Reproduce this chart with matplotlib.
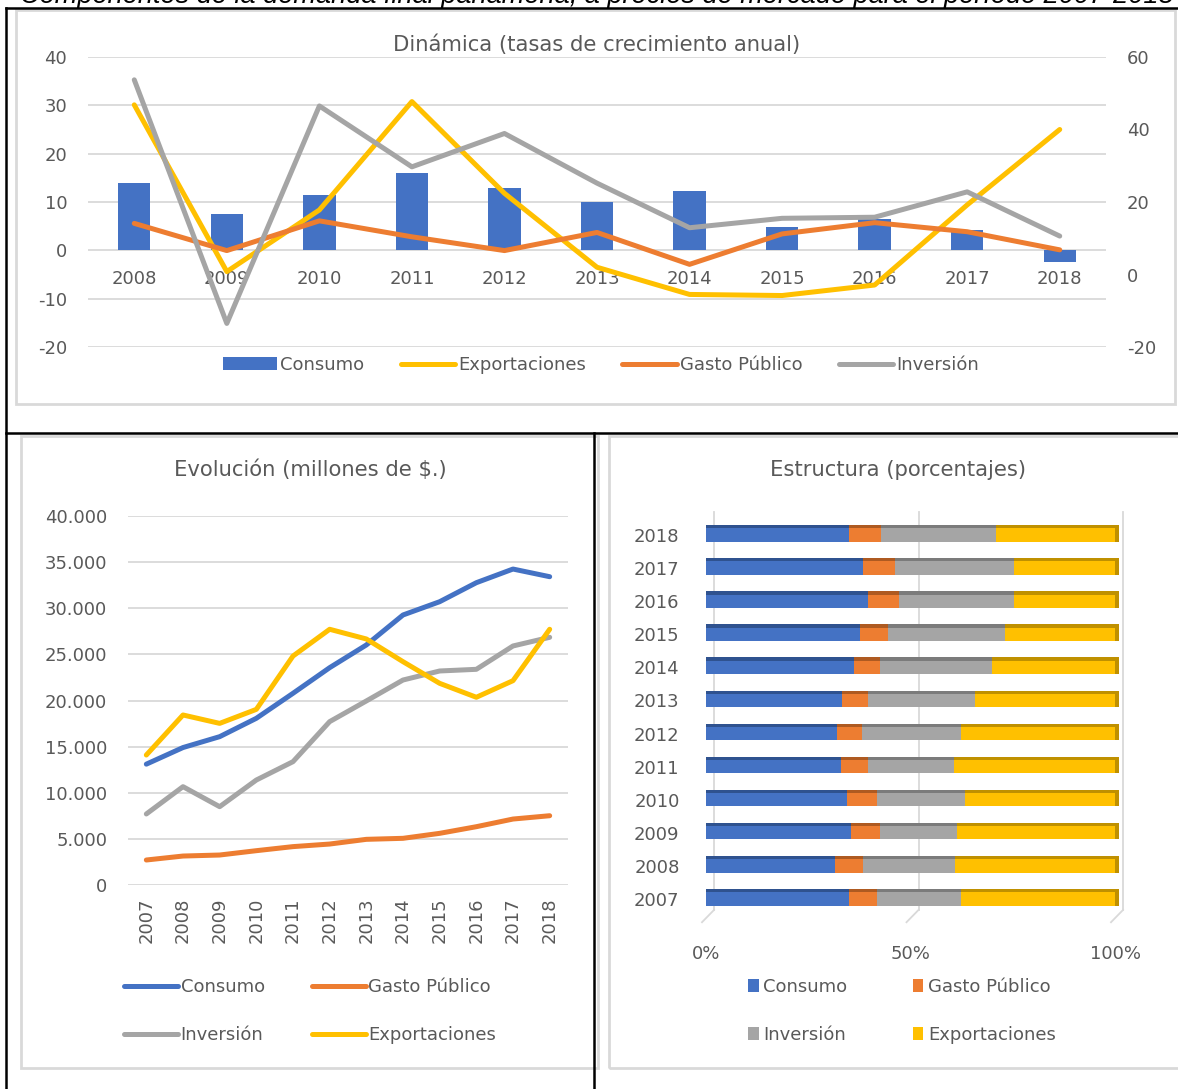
import matplotlib
matplotlib.use("Agg")
import matplotlib.pyplot as plt
import numpy as np
from matplotlib.patches import Rectangle
from matplotlib.lines import Line2D
from matplotlib.transforms import ScaledTranslation
from matplotlib.ticker import FuncFormatter

# ---------------- data ----------------
years_growth = ["2008", "2009", "2010", "2011", "2012", "2013", "2014", "2015", "2016", "2017", "2018"]
consumo_growth = [13.9, 7.6, 11.5, 16.1, 12.9, 9.9, 12.3, 4.8, 6.4, 4.3, -2.4]
export_growth = [46.8, 0.8, 17.8, 47.7, 22.4, 2.0, -5.5, -5.8, -2.9, 19.2, 40.0]
gasto_growth = [14.1, 6.6, 14.8, 10.4, 6.6, 11.6, 2.8, 11.2, 14.3, 11.8, 6.8]
inversion_growth = [53.7, -13.5, 46.5, 29.7, 38.9, 25.2, 12.9, 15.5, 15.8, 22.8, 10.6]

years = ["2007", "2008", "2009", "2010", "2011", "2012", "2013", "2014", "2015", "2016", "2017", "2018"]
consumo = [13100, 14900, 16080, 18070, 20780, 23560, 26020, 29270, 30710, 32770, 34250, 33420]
gasto = [2710, 3140, 3250, 3720, 4160, 4440, 4950, 5060, 5600, 6320, 7150, 7510]
inversion = [7700, 10660, 8490, 11380, 13370, 17710, 19950, 22220, 23200, 23380, 25910, 26850]
exportaciones = [14090, 18430, 17520, 19040, 24820, 27720, 26670, 24210, 21860, 20350, 22150, 27720]

share_consumo = [34.9, 31.6, 35.4, 34.5, 32.9, 32.1, 33.3, 36.3, 37.7, 39.5, 38.3, 35.0]
share_gasto = [7.0, 6.7, 7.2, 7.2, 6.6, 6.0, 6.4, 6.3, 6.9, 7.6, 7.9, 7.8]
share_inversion = [20.4, 22.5, 18.8, 21.6, 21.1, 24.2, 26.0, 27.3, 28.5, 28.3, 29.0, 28.2]
share_export = [37.7, 39.2, 38.6, 36.7, 39.4, 37.7, 34.3, 30.1, 26.9, 24.6, 24.8, 29.0]

# ---------------- style ----------------
BLUE, ORANGE, GRAY, YELLOW = "#4472C4", "#ED7D31", "#A5A5A5", "#FFC000"
DBLUE, DORANGE, DGRAY, DYELLOW = "#2F528F", "#AE5A21", "#7B7B7B", "#BF9000"
TXT = "#595959"
GRID = "#D9D9D9"
FS = 13
TFS = 15.2
plt.rcParams["font.family"] = ["DejaVu Sans"]
plt.rcParams["axes.unicode_minus"] = False

W, H = 1178, 1089
fig = plt.figure(figsize=(W / 100, H / 100), dpi=100)


def frect(x0, y0, x1, y1):
    return [x0 / W, 1 - y1 / H, (x1 - x0) / W, (y1 - y0) / H]


def fx(x):
    return x / W


def fy(y):
    return 1 - y / H


# caption (partly cut at the top edge, as in the source page)
fig.text(fx(20), fy(3), "Componentes de la demanda final panameña, a precios de mercado para el período 2007-2018",
         fontsize=19.5, style="italic", family="Liberation Sans", color="black", va="baseline", ha="left")

# panel borders
for (x0, y0, x1, y1) in [(16, 10, 1175, 404), (21, 436, 598, 1068), (609, 436, 1185, 1068)]:
    fig.patches.append(Rectangle((fx(x0), fy(y1)), fx(x1) - fx(x0), fy(y0) - fy(y1),
                                 transform=fig.transFigure, fill=False, edgecolor=GRID, lw=2, zorder=1))
# table lines
for (xa, ya, xb, yb) in [(6, 8, 6, 1089), (6, 8, 1178, 8), (6, 433, 1178, 433), (594, 433, 594, 1089)]:
    fig.add_artist(Line2D([fx(xa), fx(xb)], [fy(ya), fy(yb)], transform=fig.transFigure, color="black", lw=1.8))

# ---------------- top chart ----------------
ax = fig.add_axes(frect(88, 57, 1106, 347))
x = np.arange(len(years_growth))
ax.bar(x, consumo_growth, width=0.35, color=BLUE, zorder=2, label="Consumo")
ax.set_xlim(-0.5, len(years_growth) - 0.5)
ax.set_ylim(-20, 40)
ax.set_yticks(np.arange(-20, 41, 10))
ax.yaxis.grid(True, color=GRID, lw=1.3)
ax.set_axisbelow(True)
for s in ax.spines.values():
    s.set_visible(False)
ax.spines["bottom"].set_position(("data", 0))
ax.set_xticks(x)
ax.set_xticklabels(years_growth)
ax.tick_params(axis="x", length=0, pad=14, labelsize=FS, labelcolor=TXT)
ax.tick_params(axis="y", length=0, pad=15, labelsize=FS, labelcolor=TXT)

ax2 = ax.twinx()
ax2.set_ylim(-20, 60)
ax2.set_yticks(np.arange(-20, 61, 20))
for s in ax2.spines.values():
    s.set_visible(False)
ax2.tick_params(axis="y", length=0, pad=15, labelsize=FS, labelcolor=TXT)
ax2.plot(x, export_growth, color=YELLOW, lw=3.6, solid_capstyle="round", label="Exportaciones")
ax2.plot(x, gasto_growth, color=ORANGE, lw=3.6, solid_capstyle="round", label="Gasto Público")
ax2.plot(x, inversion_growth, color=GRAY, lw=3.6, solid_capstyle="round", label="Inversión")

fig.text(fx(597), fy(45), "Dinámica (tasas de crecimiento anual)", ha="center", va="center",
         fontsize=TFS, color=TXT)

h1, l1 = ax.get_legend_handles_labels()
h2, l2 = ax2.get_legend_handles_labels()
fig.legend(h1 + h2, l1 + l2, loc="center", bbox_to_anchor=(fx(601), fy(365)), ncol=4, frameon=False,
           fontsize=FS, labelcolor=TXT, handlelength=3.0, handleheight=0.7, handletextpad=0.2,
           columnspacing=2.0, borderpad=0)

# ---------------- bottom-left chart ----------------
bx = fig.add_axes(frect(128, 516, 568, 885))
xi = np.arange(len(years))
bx.plot(xi, consumo, color=BLUE, lw=3.6, solid_capstyle="round", label="Consumo")
bx.plot(xi, gasto, color=ORANGE, lw=3.6, solid_capstyle="round", label="Gasto Público")
bx.plot(xi, inversion, color=GRAY, lw=3.6, solid_capstyle="round", label="Inversión")
bx.plot(xi, exportaciones, color=YELLOW, lw=3.6, solid_capstyle="round", label="Exportaciones")
bx.set_xlim(-0.5, len(years) - 0.5)
bx.set_ylim(0, 40000)
bx.set_yticks(np.arange(0, 40001, 5000))
bx.yaxis.set_major_formatter(FuncFormatter(lambda v, p: f"{int(v):,}".replace(",", ".")))
bx.yaxis.grid(True, color=GRID, lw=1.3)
bx.set_axisbelow(True)
for s in bx.spines.values():
    s.set_visible(False)
bx.set_xticks(xi)
bx.set_xticklabels(years, rotation=90)
bx.tick_params(axis="x", length=0, pad=9, labelsize=FS, labelcolor=TXT)
bx.tick_params(axis="y", length=0, pad=15, labelsize=FS, labelcolor=TXT)
fig.text(fx(310), fy(470), "Evolución (millones de $.)", ha="center", va="center", fontsize=TFS, color=TXT)
hb, lb = bx.get_legend_handles_labels()
order = [0, 2, 1, 3]
fig.legend([hb[i] for i in order], [lb[i] for i in order], loc="center", bbox_to_anchor=(fx(310), fy(1011)),
           ncol=2, frameon=False, fontsize=FS, labelcolor=TXT, handlelength=3.0, handletextpad=0.15,
           columnspacing=2.6, labelspacing=1.65, borderpad=0)

# ---------------- bottom-right chart ----------------
cx = fig.add_axes(frect(706, 512, 1115, 921))
cx.set_xlim(0, 100)
cx.set_ylim(-0.665, 11.695)
yi = np.arange(len(years))
sc = np.array(share_consumo)
sg = np.array(share_gasto)
si = np.array(share_inversion)
se = np.array(share_export)
tot = sc + sg + si + se
parts = [(sc / tot * 100, BLUE, DBLUE, "Consumo"), (sg / tot * 100, ORANGE, DORANGE, "Gasto Público"),
         (si / tot * 100, GRAY, DGRAY, "Inversión"), (se / tot * 100, YELLOW, DYELLOW, "Exportaciones")]
left = np.zeros(len(years))
for vals, col, dcol, lab in parts:
    cx.barh(yi, vals, left=left, height=0.40, color=col, zorder=3, label=lab)
    cx.barh(yi + 0.25, vals, left=left, height=0.10, color=dcol, zorder=3)
    left = left + vals
cx.barh(yi + 0.05, np.full(len(years), 0.9), left=left, height=0.5, color=DYELLOW, zorder=3, clip_on=False)

# back wall grid lines and floor (3D look)
off_back = ScaledTranslation(8 / 100, 0, fig.dpi_scale_trans)
off_front = ScaledTranslation(-4 / 100, 0, fig.dpi_scale_trans)
for v in [0, 50, 100]:
    cx.plot([v, v], [0.027, 1.0], transform=cx.get_xaxis_transform() + off_back, color=GRID, lw=1.3,
            zorder=1, clip_on=False)
fl_tr_back = cx.get_xaxis_transform() + off_back
fl_tr_front = cx.get_xaxis_transform() + off_front
inv = fig.transFigure.inverted()
for v in [0, 50, 100]:
    q0 = inv.transform(fl_tr_back.transform((v, 0.027)))
    q1 = inv.transform(fl_tr_front.transform((v, -0.003)))
    fig.add_artist(Line2D([q0[0], q1[0]], [q0[1], q1[1]], transform=fig.transFigure, color=GRID, lw=1.3))

for s in cx.spines.values():
    s.set_visible(False)
cx.set_yticks(yi)
cx.set_yticklabels(years)
cx.set_xticks([0, 50, 100])
cx.set_xticklabels(["0%", "50%", "100%"])
cx.tick_params(axis="x", length=0, pad=17, labelsize=FS, labelcolor=TXT)
cx.tick_params(axis="y", length=0, pad=19, labelsize=FS, labelcolor=TXT)
fig.text(fx(898), fy(470), "Estructura (porcentajes)", ha="center", va="center", fontsize=TFS, color=TXT)
hc, lc = cx.get_legend_handles_labels()
fig.legend([hc[i] for i in order], [lc[i] for i in order], loc="center", bbox_to_anchor=(fx(902), fy(1011)),
           ncol=2, frameon=False, fontsize=FS, labelcolor=TXT, handlelength=0.6, handleheight=0.75,
           handletextpad=0.25, columnspacing=3.6, labelspacing=1.65, borderpad=0)

fig.savefig("out.png", dpi=100)
